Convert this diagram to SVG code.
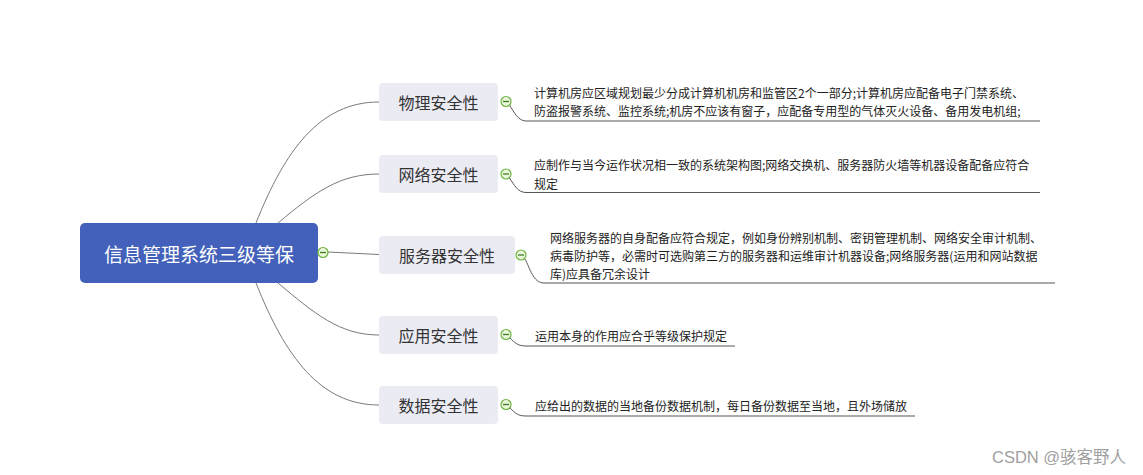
<svg xmlns="http://www.w3.org/2000/svg" width="1143" height="475" viewBox="0 0 1143 475">
<defs>
<style>
.bg{fill:#ffffff}
.root rect{fill:#4361ba}
.root text{fill:#ffffff;font-family:"Noto Sans CJK SC","Liberation Sans",sans-serif;font-size:19px;text-anchor:middle;dominant-baseline:central}
.branch rect{fill:#ebebf3}
.branch text{fill:#333333;font-family:"Noto Sans CJK SC","Liberation Sans",sans-serif;font-size:16px;text-anchor:middle;dominant-baseline:central}
.leaf text{fill:#222222;font-family:"Noto Sans CJK SC","Liberation Sans",sans-serif;font-size:12px;dominant-baseline:central}
.conn path{fill:none;stroke:#7a7a7a;stroke-width:1}
.conn path.ul{stroke:#555555}
.tog circle{fill:#eaf6dc;stroke:#6cb33f;stroke-width:1.2}
.tog line{stroke:#3c7a1c;stroke-width:1.3}
.wm{fill:#a0a0a0;font-family:"Liberation Sans","Noto Sans CJK SC",sans-serif;font-size:16.5px}
</style>
</defs>
<rect class="bg" x="0" y="0" width="1143" height="475"/>
<g id="connectors" class="conn">
<path d="M256,223 C285,150 320,102 379,102"/>
<path d="M278,223 C315,192 340,174 379,174"/>
<path d="M328,252 L379,254.5"/>
<path d="M278,283 C315,314 340,335 379,335"/>
<path d="M256,283 C285,356 320,405 379,405"/>
<path class="ul" d="M509.5,105 C514,112 518,121 526,121 L1040,121"/>
<path class="ul" d="M509.5,178 C514,185 518,192.5 526,192.5 L1040,192.5"/>
<path class="ul" d="M525,259 C530,268 533,283 544,283 L1055,283"/>
<path class="ul" d="M510,338 C515,343 518,346 526,346 L735,346"/>
<path class="ul" d="M510,408 C515,413 518,416 526,416 L915,416"/>
</g>
<g id="root" class="root">
<rect x="80" y="223" width="238" height="60" rx="5"/>
<text x="199" y="253">信息管理系统三级等保</text>
</g>
<g id="n-physical" class="branch">
<rect x="379" y="83" width="119" height="38" rx="4"/>
<text x="438.5" y="102">物理安全性</text>
</g>
<g id="n-network" class="branch">
<rect x="379" y="155" width="119" height="38" rx="4"/>
<text x="438.5" y="174">网络安全性</text>
</g>
<g id="n-server" class="branch">
<rect x="379" y="236" width="136" height="38" rx="4"/>
<text x="447" y="255">服务器安全性</text>
</g>
<g id="n-app" class="branch">
<rect x="379" y="316" width="119" height="38" rx="4"/>
<text x="438.5" y="335">应用安全性</text>
</g>
<g id="n-data" class="branch">
<rect x="379" y="386" width="119" height="38" rx="4"/>
<text x="438.5" y="405">数据安全性</text>
</g>
<g id="l-physical" class="leaf">
<text x="534" y="92">计算机房应区域规划最少分成计算机机房和监管区2个一部分;计算机房应配备电子门禁系统、</text>
<text x="534" y="110.5">防盗报警系统、监控系统;机房不应该有窗子，应配备专用型的气体灭火设备、备用发电机组;</text>
</g>
<g id="l-network" class="leaf">
<text x="534" y="164.5">应制作与当今运作状况相一致的系统架构图;网络交换机、服务器防火墙等机器设备配备应符合</text>
<text x="534" y="183">规定</text>
</g>
<g id="l-server" class="leaf">
<text x="550" y="237.5">网络服务器的自身配备应符合规定，例如身份辨别机制、密钥管理机制、网络安全审计机制、</text>
<text x="550" y="255.5">病毒防护等，必需时可选购第三方的服务器和运维审计机器设备;网络服务器(运用和网站数据</text>
<text x="550" y="273.5">库)应具备冗余设计</text>
</g>
<g id="l-app" class="leaf">
<text x="535" y="335">运用本身的作用应合乎等级保护规定</text>
</g>
<g id="l-data" class="leaf">
<text x="535" y="405">应给出的数据的当地备份数据机制，每日备份数据至当地，且外场储放</text>
</g>
<g id="toggles" class="tog">
<circle cx="323" cy="252.5" r="5"/><line x1="320" y1="252.5" x2="326" y2="252.5"/>
<circle cx="506" cy="101.5" r="5"/><line x1="503" y1="101.5" x2="509" y2="101.5"/>
<circle cx="506" cy="174" r="5"/><line x1="503" y1="174" x2="509" y2="174"/>
<circle cx="521" cy="255" r="5"/><line x1="518" y1="255" x2="524" y2="255"/>
<circle cx="506" cy="334.5" r="5"/><line x1="503" y1="334.5" x2="509" y2="334.5"/>
<circle cx="506" cy="404.5" r="5"/><line x1="503" y1="404.5" x2="509" y2="404.5"/>
</g>
<text class="wm" x="992" y="463">CSDN @骇客野人</text>
</svg>
